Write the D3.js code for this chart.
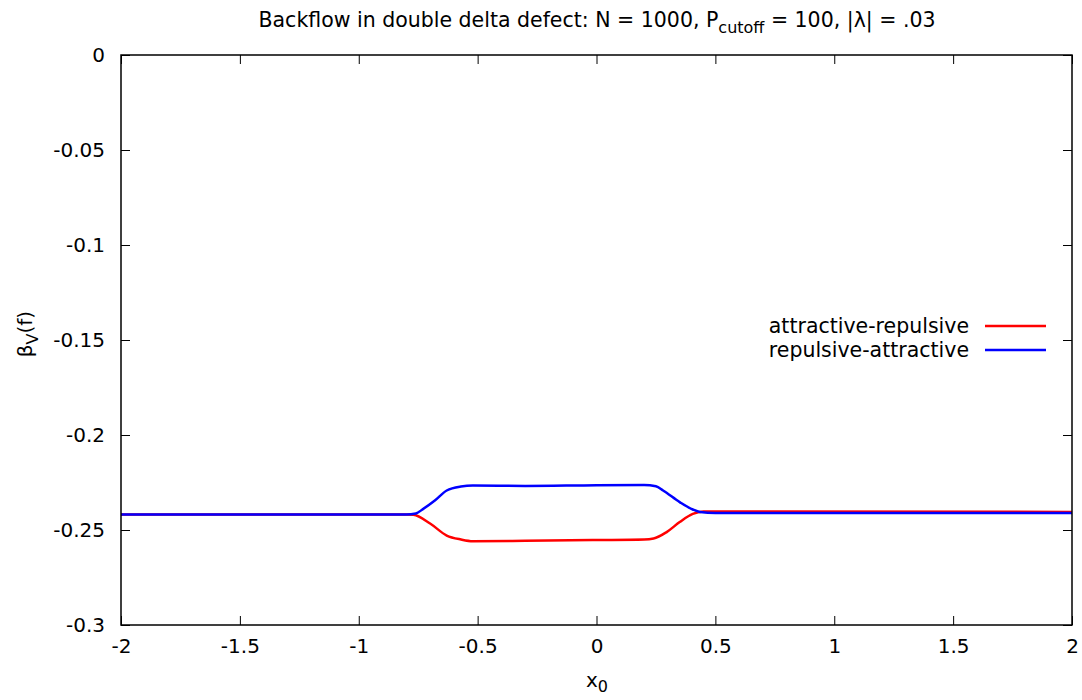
<!DOCTYPE html>
<html>
<head>
<meta charset="utf-8">
<script src="https://cdn.jsdelivr.net/npm/d3@7"></script>
<style>
  body { margin: 0; background: #fff; }
  svg, svg text { font-family: "DejaVu Sans", sans-serif; }
</style>
</head>
<body>
<div id="chart"></div>
<script>
// valeurs
const xTicks = [-2, -1.5, -1, -0.5, 0, 0.5, 1, 1.5, 2];
const yTicks = [0, -0.05, -0.1, -0.15, -0.2, -0.25, -0.3];

const xAR = [-2, -0.8, -0.77, -0.70, -0.63, -0.57, -0.52, -0.3, 0, 0.2, 0.24, 0.295, 0.35, 0.405, 0.45, 0.5, 2];
const yAR = [-0.2418, -0.2418, -0.2420, -0.2466, -0.2529, -0.2550, -0.2559, -0.2557, -0.2553, -0.2550, -0.2545, -0.2511, -0.2458, -0.2415, -0.2403, -0.2402, -0.2405];

const xRA = [-2, -0.8, -0.76, -0.73, -0.68, -0.63, -0.57, -0.52, -0.3, 0, 0.2, 0.25, 0.28, 0.35, 0.405, 0.435, 0.5, 2];
const yRA = [-0.2418, -0.2418, -0.2413, -0.2390, -0.2345, -0.2292, -0.2271, -0.2266, -0.2268, -0.2264, -0.2263, -0.2270, -0.2292, -0.2353, -0.2392, -0.2405, -0.2410, -0.2410];

const series = [
  { name: "attractive-repulsive", color: "#ff0000", xs: xAR, ys: yAR },
  { name: "repulsive-attractive", color: "#0000ff", xs: xRA, ys: yRA }
];

const width = 1082, height = 700;
const margin = { left: 121, right: 10, top: 55, bottom: 75 };
const fs = 20;     // taille du texte
const fsBig = 20.5; // titre et légende
const fsSub = 16;  // indices

const svg = d3.select("#chart").append("svg")
  .attr("width", width)
  .attr("height", height);

const x = d3.scaleLinear().domain([-2, 2]).range([margin.left, width - margin.right]);
const y = d3.scaleLinear().domain([-0.3, 0]).range([height - margin.bottom, margin.top]);

const fmt = d => d === 0 ? "0" : String(d);

function styleAxis(g) {
  g.select(".domain").remove();
  g.attr("font-family", "DejaVu Sans").attr("font-size", fs);
  g.selectAll(".tick line").attr("stroke", "#000").attr("stroke-width", 1);
  g.selectAll(".tick text").attr("fill", "#000");
}

// axes avec graduations vers l'intérieur (style gnuplot)
svg.append("g")
  .attr("transform", `translate(0,${y(-0.3)})`)
  .call(d3.axisBottom(x).tickValues(xTicks).tickFormat(fmt).tickSizeInner(-9).tickSizeOuter(0).tickPadding(14))
  .call(styleAxis);
svg.append("g")
  .attr("transform", `translate(0,${y(0)})`)
  .call(d3.axisTop(x).tickValues(xTicks).tickFormat("").tickSizeInner(-9).tickSizeOuter(0))
  .call(styleAxis);
svg.append("g")
  .attr("transform", `translate(${x(-2)},0)`)
  .call(d3.axisLeft(y).tickValues(yTicks).tickFormat(fmt).tickSizeInner(-9).tickSizeOuter(0).tickPadding(16))
  .call(styleAxis);
svg.append("g")
  .attr("transform", `translate(${x(2)},0)`)
  .call(d3.axisRight(y).tickValues(yTicks).tickFormat("").tickSizeInner(-9).tickSizeOuter(0))
  .call(styleAxis);

// courbes
const line = d3.line()
  .x(d => x(d[0]))
  .y(d => y(d[1]))
  .curve(d3.curveMonotoneX);

series.forEach(s => {
  svg.append("path")
    .datum(s.xs.map((v, i) => [v, s.ys[i]]))
    .attr("d", line)
    .attr("fill", "none")
    .attr("stroke", s.color)
    .attr("stroke-width", 2.5);
});

// cadre
svg.append("rect")
  .attr("x", x(-2))
  .attr("y", y(0))
  .attr("width", x(2) - x(-2))
  .attr("height", y(-0.3) - y(0))
  .attr("fill", "none")
  .attr("stroke", "#000")
  .attr("stroke-width", 1.5);

// légende
series.forEach((s, i) => {
  const ly = 326 + i * 24;
  svg.append("text")
    .attr("x", 969)
    .attr("y", ly)
    .attr("dy", "0.35em")
    .attr("text-anchor", "end")
    .attr("font-size", fsBig)
    .text(s.name);
  svg.append("line")
    .attr("x1", 985).attr("x2", 1046)
    .attr("y1", ly).attr("y2", ly)
    .attr("stroke", s.color)
    .attr("stroke-width", 2.5);
});

// titre
const title = svg.append("text")
  .attr("x", 597)
  .attr("y", 27)
  .attr("text-anchor", "middle")
  .attr("font-size", fsBig);
title.append("tspan").text("Backflow in double delta defect: N = 1000, P");
title.append("tspan").attr("dy", 6).attr("font-size", fsSub).text("cutoff");
title.append("tspan").attr("dy", -6).text(" = 100, |λ| = .03");

// titres des axes
const xl = svg.append("text")
  .attr("x", 597)
  .attr("y", 687)
  .attr("text-anchor", "middle")
  .attr("font-size", fs);
xl.append("tspan").text("x");
xl.append("tspan").attr("dy", 5).attr("font-size", fsSub).text("0");

const yl = svg.append("text")
  .attr("transform", "translate(32,334) rotate(-90)")
  .attr("text-anchor", "middle")
  .attr("font-size", fs);
yl.append("tspan").text("β");
yl.append("tspan").attr("dy", 6).attr("font-size", fsSub).text("V");
yl.append("tspan").attr("dy", -6).text("(f)");
</script>
</body>
</html>
